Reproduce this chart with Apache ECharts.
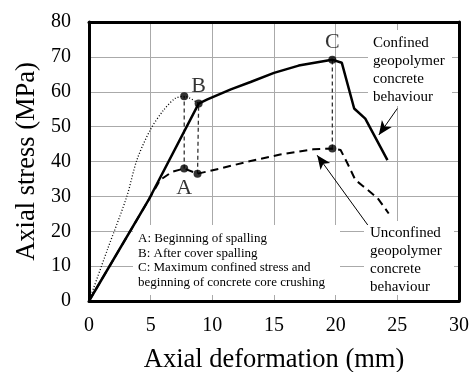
<!DOCTYPE html>
<html><head><meta charset="utf-8">
<script src="https://cdn.jsdelivr.net/npm/echarts@6/dist/echarts.min.js"></script>
<style>html,body{margin:0;padding:0;background:#fff}#c{width:474px;height:372px}</style>
</head><body><div id="c"></div>
<script>
var confined = [[0,0],[4.82,28.9],[8.89,56.6],[9.6,57.8],[11.5,60.7],[13.1,62.8],[15,65.4],[17,67.5],[19.7,69.2],[20.5,68.3],[21.5,55.2],[22.4,52.3],[24.2,40.4]];
var coverCurve = [[0,0],[1.5,14.8],[3.06,29.9],[3.88,40.4],[4.96,49],[6.04,54.7],[6.99,58.1],[7.72,58.7],[8.89,56.6]];
var unconfined = [[0,0],[4.82,28.9],[5.77,34.7],[6.72,37.0],[7.72,38.0],[8.8,36.5],[10.65,38.0],[12.8,39.9],[15.5,42.0],[18.2,43.5],[19.73,43.7],[20.4,43.3],[20.95,39.5],[21.6,34.7],[22.2,33],[23.4,29.5],[24.3,25.1]];
var dropA = [[7.72,38.0],[7.72,58.7]];
var dropB = [[8.8,36.5],[8.89,56.6]];
var dropC = [[19.73,43.7],[19.73,69.2]];
var pointX = [7.72, 7.72, 8.89, 8.8, 19.73, 19.73];
var pointY = [38.0, 58.7, 56.6, 36.5, 69.2, 43.7];
var pointLabel = ['A', '', 'B', '', 'C', ''];
var pointLabelPos = ['bottom', '', 'top', '', 'top', ''];
var xTicks = [0,5,10,15,20,25,30];
var yTicks = [0,10,20,30,40,50,60,70,80];
var confinedArrow = [[25.0,55.2],[23.5,47.6]];
var unconfinedArrow = [[22.6,21.8],[18.5,41.8]];
var noteConfined = 'Confined\ngeopolymer\nconcrete\nbehaviour';
var noteUnconfined = 'Unconfined\ngeopolymer\nconcrete\nbehaviour';
var noteKey = 'A: Beginning of spalling\nB: After cover spalling\nC: Maximum confined stress and\nbeginning of concrete core crushing';

var FF = '"Liberation Serif","Times New Roman",serif';
var chart = echarts.init(document.getElementById('c'));
var pts = pointX.map(function(x,i){
  var d = {value:[x,pointY[i]]};
  if (pointLabel[i]) d.label = {show:true, formatter:pointLabel[i], position:pointLabelPos[i], distance: pointLabelPos[i]==='bottom'?5:2, fontSize:22, fontFamily:FF, color:'#000'};
  return d;
});
function drop(d){return {type:'line', data:d, symbol:'none', lineStyle:{color:'#333', width:1.3, type:[4,3]}, z:3, silent:true};}
chart.setOption({
  animation:false,
  grid:{left:89, right:15, top:22, bottom:71, outerBoundsMode:'none', containLabel:false},
  xAxis:[{type:'value', min:0, max:30, interval:5,
    name:'Axial deformation (mm)', nameLocation:'middle', nameGap:46,
    nameTextStyle:{fontSize:26.5, fontFamily:FF, color:'#000'},
    axisLine:{show:true, lineStyle:{color:'#000', width:3}}, axisTick:{show:false},
    axisLabel:{fontSize:20, fontFamily:FF, color:'#000', margin:15},
    splitLine:{show:true, lineStyle:{color:'#aaa', width:1}}},
   {type:'value', position:'top', min:0, max:30, axisLine:{show:true, onZero:false, lineStyle:{color:'#000', width:3}}, axisTick:{show:false}, axisLabel:{show:false}, splitLine:{show:false}}],
  yAxis:[{type:'value', min:0, max:80, interval:10,
    name:'Axial stress (MPa)', nameLocation:'middle', nameGap:43,
    nameTextStyle:{fontSize:26.5, fontFamily:FF, color:'#000'},
    axisLine:{show:true, lineStyle:{color:'#000', width:3}}, axisTick:{show:false},
    axisLabel:{fontSize:20, fontFamily:FF, color:'#000', margin:18},
    splitLine:{show:true, lineStyle:{color:'#aaa', width:1}}},
   {type:'value', position:'right', min:0, max:80, axisLine:{show:true, onZero:false, lineStyle:{color:'#000', width:3}}, axisTick:{show:false}, axisLabel:{show:false}, splitLine:{show:false}}],
  graphic:[
    {type:'rect', left:368, top:30, shape:{width:84, height:76}, style:{fill:'#fff'}, z:1},
    {type:'text', left:373, top:34, style:{text:noteConfined, font:'15px '+FF, fill:'#000', lineHeight:18}, z:2},
    {type:'rect', left:364, top:221, shape:{width:90, height:74}, style:{fill:'#fff'}, z:1},
    {type:'text', left:370, top:224, style:{text:noteUnconfined, font:'15px '+FF, fill:'#000', lineHeight:18}, z:2},
    {type:'rect', left:133, top:225, shape:{width:207, height:70}, style:{fill:'#fff'}, z:1},
    {type:'text', left:138, top:231, style:{text:noteKey, font:'13px '+FF, fill:'#000', lineHeight:14.8}, z:2}
  ],
  series:[
    {type:'line', data:unconfined, symbol:'none', lineStyle:{color:'#000', width:2, type:[8,5]}, z:3,
     markLine:{silent:true, symbol:['none','arrow'], symbolSize:[9,14], label:{show:false}, lineStyle:{color:'#000', width:1, type:'solid'},
       data:[[{coord:unconfinedArrow[0]},{coord:unconfinedArrow[1]}]]}},
    {type:'line', data:coverCurve, symbol:'none', smooth:0.3, lineStyle:{color:'#000', width:1.3, type:[1,2]}, z:3},
    {type:'line', data:confined, symbol:'none', lineStyle:{color:'#000', width:2.5}, z:4,
     markLine:{silent:true, symbol:['none','arrow'], symbolSize:[9,14], label:{show:false}, lineStyle:{color:'#000', width:1, type:'solid'},
       data:[[{coord:confinedArrow[0]},{coord:confinedArrow[1]}]]}},
    drop(dropA), drop(dropB), drop(dropC),
    {type:'scatter', data:pts, symbol:'circle', symbolSize:8, itemStyle:{color:'#000'}, z:5}
  ]
});
</script></body></html>
